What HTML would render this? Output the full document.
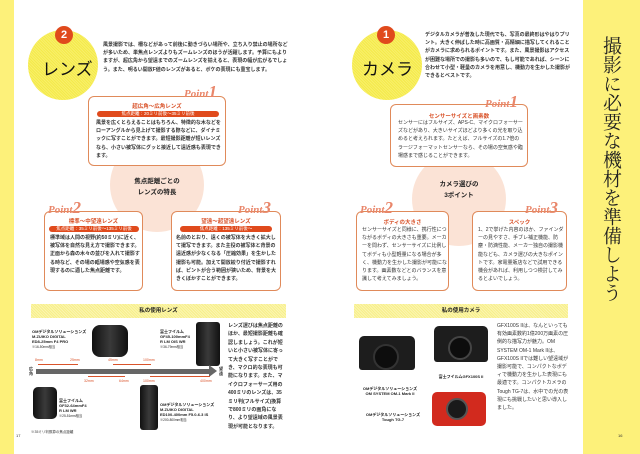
<!DOCTYPE html>
<html><head><meta charset="utf-8">
<style>
*{margin:0;padding:0;box-sizing:border-box}
body{width:640px;height:454px;position:relative;background:#fff;overflow:hidden;font-family:"Liberation Sans","Noto Sans CJK JP",sans-serif;color:#333}
.a{position:absolute}
.t{font-size:5px;line-height:8.2px;color:#333;font-weight:bold}
.circ{border-radius:50%;background:repeating-linear-gradient(45deg,#f4ea4a 0 1px,#f8ef6a 1px 2px)}
.badge{border-radius:50%;background:#e04a1c;color:#fff;font-size:11px;text-align:center;line-height:18px;width:18px;height:18px;font-weight:bold}
.big{font-size:17px;color:#111;font-family:"Liberation Sans","Noto Sans CJK JP",sans-serif}
.box{border:1px solid #e08a5a;border-radius:6px;background:#fff}
.pt{color:#e9866a;font-family:"Liberation Serif",serif;font-weight:bold;font-size:11px;font-style:italic}
.pt b{font-size:17px}
.ttl{color:#d9532a;font-size:5.5px;font-weight:bold;text-align:center}
.bar{background:#e04a1c;color:#fff;font-size:4.5px;text-align:center;border-radius:3px;height:6px;line-height:6px}
.peach{border-radius:50%;background:#fbe3d6}
.ct{font-size:6.5px;font-weight:bold;text-align:center;line-height:11px;color:#222}
.yb{background:repeating-linear-gradient(45deg,#f7ef8a 0 1px,#fbf5b0 1px 2px);font-size:5.5px;font-weight:bold;text-align:center;line-height:14px;color:#222}
.cam{background:#1d1d1d;border-radius:3px}
.lens{background:linear-gradient(90deg,#111,#3a3a3a,#111);border-radius:3px}
.sm{font-size:4px;line-height:5px;color:#222;font-weight:bold}
.mm{font-size:3.5px;color:#d9532a}
.tick{background:#d9532a;height:1px}
</style></head><body>
<div class="a" style="left:0;top:0;width:14px;height:454px;background:#fdf17a"></div>
<div class="a" style="left:583px;top:0;width:57px;height:454px;background:#fdf17a"></div>
<div class="a" style="left:597px;top:36px;width:24px;font-size:19px;line-height:21.5px;writing-mode:vertical-rl;font-family:'Liberation Serif','Noto Serif CJK SC',serif;color:#222">撮影に必要な機材を準備しよう</div>

<!-- LEFT PAGE -->
<div class="a circ" style="left:28px;top:30px;width:70px;height:70px"></div>
<div class="a badge" style="left:55px;top:26px">2</div>
<div class="a big" style="left:42px;top:55px">レンズ</div>
<div class="a t" style="left:103px;top:41px;width:185px">風景撮影では、柵などがあって前後に動きづらい場所や、立ち入り禁止の場所などが多いため、単焦点レンズよりもズームレンズのほうが活躍します。予算にもよりますが、超広角から望遠までのズームレンズを揃えると、表現の幅が広がるでしょう。また、明るい開放F値のレンズがあると、ボケの表現にも重宝します。</div>

<div class="a peach" style="left:110px;top:138px;width:94px;height:94px"></div>
<div class="a box" style="left:88px;top:96px;width:138px;height:70px"></div>
<div class="a pt" style="left:184px;top:82px">Point<b>1</b></div>
<div class="a ttl" style="left:88px;top:102px;width:138px">超広角～広角レンズ</div>
<div class="a bar" style="left:97px;top:111px;width:122px">焦点距離：20ミリ前後～35ミリ前後</div>
<div class="a t" style="left:96px;top:119px;width:126px">風景を広くとらえることはもちろん、特徴的な木などをローアングルから見上げて撮影する際などに、ダイナミックに写すことができます。最短撮影距離が短いレンズなら、小さい被写体にグッと接近して遠近感も表現できます。</div>
<div class="a ct" style="left:110px;top:176px;width:94px">焦点距離ごとの<br>レンズの特長</div>

<div class="a box" style="left:44px;top:211px;width:99px;height:80px"></div>
<div class="a pt" style="left:48px;top:198px">Point<b>2</b></div>
<div class="a ttl" style="left:44px;top:217px;width:99px">標準～中望遠レンズ</div>
<div class="a bar" style="left:49px;top:226px;width:90px">焦点距離：35ミリ前後～135ミリ前後</div>
<div class="a t" style="left:50px;top:234px;width:90px">標準域は人間の視野(約50ミリ)に近く、被写体を自然な見え方で撮影できます。正面から森の木々の並びを入れて撮影する時など、その場の臨場感や空気感を表現するのに適した焦点距離です。</div>

<div class="a box" style="left:171px;top:211px;width:110px;height:80px"></div>
<div class="a pt" style="left:238px;top:198px">Point<b>3</b></div>
<div class="a ttl" style="left:171px;top:217px;width:110px">望遠～超望遠レンズ</div>
<div class="a bar" style="left:180px;top:226px;width:92px">焦点距離：135ミリ前後～</div>
<div class="a t" style="left:176px;top:234px;width:104px">名前のとおり、遠くの被写体を大きく拡大して撮写できます。また主役の被写体と背景の遠近感が少なくなる「圧縮効果」を生かした撮影も可能。加えて開放絞り付近で撮影すれば、ピントが合う範囲が狭いため、背景を大きくぼかすことができます。</div>

<div class="a yb" style="left:31px;top:304px;width:255px;height:14px">私の使用レンズ</div>
<div class="a sm" style="left:32px;top:329px">OMデジタルソリューションズ<br>M.ZUIKO DIGITAL<br>ED8-25mm F4 PRO<br><span style="font-size:3.2px;font-weight:normal">※16-50mm相当</span></div>
<div class="a lens" style="left:92px;top:325px;width:36px;height:32px;border-radius:8px"></div>
<div class="a sm" style="left:160px;top:329px">富士フイルム<br>GF45-100mmF4<br>R LM OIS WR<br><span style="font-size:3.2px;font-weight:normal">※36-79mm相当</span></div>
<div class="a lens" style="left:196px;top:322px;width:24px;height:44px"></div>
<div class="a" style="left:36px;top:369px;width:173px;height:5px;background:#666"></div>
<div class="a" style="left:209px;top:365px;width:0;height:0;border-left:8px solid #666;border-top:6px solid transparent;border-bottom:6px solid transparent"></div>
<div class="a sm" style="left:29px;top:366px;width:5px">広角</div>
<div class="a sm" style="left:219px;top:366px;width:5px">望遠</div>
<div class="a tick" style="left:38px;top:364px;width:40px"></div>
<div class="a tick" style="left:113px;top:364px;width:38px"></div>
<div class="a tick" style="left:88px;top:376px;width:37px"></div>
<div class="a tick" style="left:150px;top:376px;width:60px"></div>
<div class="a mm" style="left:35px;top:358px">8mm</div>
<div class="a mm" style="left:70px;top:358px">25mm</div>
<div class="a mm" style="left:108px;top:358px">45mm</div>
<div class="a mm" style="left:143px;top:358px">100mm</div>
<div class="a mm" style="left:84px;top:379px">32mm</div>
<div class="a mm" style="left:119px;top:379px">64mm</div>
<div class="a mm" style="left:143px;top:379px">100mm</div>
<div class="a mm" style="left:200px;top:379px">400mm</div>
<div class="a lens" style="left:33px;top:387px;width:24px;height:32px;border-radius:5px"></div>
<div class="a sm" style="left:59px;top:398px">富士フイルム<br>GF32-64mmF4<br>R LM WR<br><span style="font-size:3.2px;font-weight:normal">※25-51mm相当</span></div>
<div class="a lens" style="left:140px;top:385px;width:18px;height:45px"></div>
<div class="a sm" style="left:160px;top:402px">OMデジタルソリューションズ<br>M.ZUIKO DIGITAL<br>ED100-400mm F5.0-6.3 IS<br><span style="font-size:3.2px;font-weight:normal">※200-800mm相当</span></div>
<div class="a" style="left:31px;top:430px;font-size:3.5px">※35ミリ判換算の焦点距離</div>
<div class="a t" style="left:228px;top:322px;width:58px;line-height:8.4px">レンズ選びは焦点距離のほか、最短撮影距離も確認しましょう。これが短いと小さい被写体に寄って大きく写すことができ、マクロ的な表現も可能になります。また、マイクロフォーサーズ用の400ミリのレンズは、35ミリ判(フルサイズ)換算で800ミリの画角になり、より望遠域の風景表現が可能となります。</div>
<div class="a" style="left:16px;top:433px;font-size:4px">17</div>

<!-- RIGHT PAGE -->
<div class="a circ" style="left:352px;top:30px;width:70px;height:70px"></div>
<div class="a badge" style="left:377px;top:26px">1</div>
<div class="a big" style="left:362px;top:55px">カメラ</div>
<div class="a t" style="left:425px;top:31px;width:146px">デジタルカメラが普及した現代でも、写真の最終形はやはりプリント。大きく伸ばした時に高画質・高精細に描写してくれることがカメラに求められるポイントです。また、風景撮影はアクセスが困難な場所での撮影も多いので、もし可能であれば、シーンに合わせて小型・軽量のカメラを用意し、機動力を生かした撮影ができるとベストです。</div>

<div class="a peach" style="left:412px;top:152px;width:94px;height:94px"></div>
<div class="a box" style="left:390px;top:104px;width:138px;height:63px"></div>
<div class="a pt" style="left:485px;top:92px">Point<b>1</b></div>
<div class="a ttl" style="left:390px;top:112px;width:138px">センサーサイズと画素数</div>
<div class="a t" style="left:398px;top:119px;width:126px;font-weight:normal">センサーにはフルサイズ、APS-C、マイクロフォーサーズなどがあり、大きいサイズほどより多くの光を取り込めると考えられます。たとえば、フルサイズの1.7倍のラージフォーマットセンサーなら、その場の空気感や臨場感まで感じることができます。</div>
<div class="a ct" style="left:412px;top:179px;width:94px">カメラ選びの<br>3ポイント</div>

<div class="a box" style="left:356px;top:211px;width:93px;height:80px"></div>
<div class="a pt" style="left:360px;top:198px">Point<b>2</b></div>
<div class="a ttl" style="left:356px;top:218px;width:93px">ボディの大きさ</div>
<div class="a t" style="left:362px;top:226px;width:86px;font-weight:normal">センサーサイズと同様に、携行性につながるボディの大きさも重要。メーカーを問わず、センサーサイズに比例してボディも小型軽量になる場合が多く、機動力を生かした撮影が可能になります。画素数などとのバランスを意識して考えてみましょう。</div>

<div class="a box" style="left:472px;top:211px;width:95px;height:80px"></div>
<div class="a pt" style="left:525px;top:198px">Point<b>3</b></div>
<div class="a ttl" style="left:472px;top:218px;width:95px">スペック</div>
<div class="a t" style="left:478px;top:226px;width:88px;font-weight:normal">1、2で挙げた内容のほか、ファインダーの見やすさ、手ブレ補正機能、防塵・防滴性能、メーカー独自の撮影機能なども、カメラ選びの大きなポイントです。家電量販店などで試用できる機会があれば、利用しつつ検討してみるとよいでしょう。</div>

<div class="a yb" style="left:354px;top:304px;width:214px;height:14px">私の使用カメラ</div>
<div class="a cam" style="left:359px;top:336px;width:56px;height:34px;border-radius:5px 5px 3px 3px"></div>
<div class="a" style="left:373px;top:344px;width:26px;height:26px;border-radius:50%;background:#0d0d0d;border:2px solid #333"></div>
<div class="a sm" style="left:355px;top:386px;width:70px;text-align:center">OMデジタルソリューションズ<br>OM SYSTEM OM-1 Mark II</div>
<div class="a cam" style="left:434px;top:326px;width:54px;height:36px;border-radius:5px 5px 3px 3px"></div>
<div class="a" style="left:448px;top:336px;width:24px;height:24px;border-radius:50%;background:#0d0d0d;border:2px solid #444"></div>
<div class="a sm" style="left:433px;top:374px;width:56px;text-align:center">富士フイルムGFX100S II</div>
<div class="a" style="left:432px;top:392px;width:54px;height:34px;border-radius:5px;background:#d22a1e"></div>
<div class="a" style="left:446px;top:398px;width:22px;height:22px;border-radius:50%;background:#1a1a1a;border:2px solid #555"></div>
<div class="a sm" style="left:358px;top:412px;width:70px;text-align:center">OMデジタルソリューションズ<br>Tough TG-7</div>
<div class="a t" style="left:497px;top:322px;width:72px;font-weight:normal">GFX100S IIは、なんといっても有効画素数約1億200万画素の圧倒的な描写力が魅力。OM SYSTEM OM-1 Mark IIは、GFX100S IIでは難しい望遠域が撮影可能で、コンパクトなボディで機動力を生かした表現にも最適です。コンパクトカメラのTough TG-7は、水中での光の表現にも挑戦したいと思い導入しました。</div>
<div class="a" style="left:618px;top:433px;font-size:4px">16</div>
</body></html>
